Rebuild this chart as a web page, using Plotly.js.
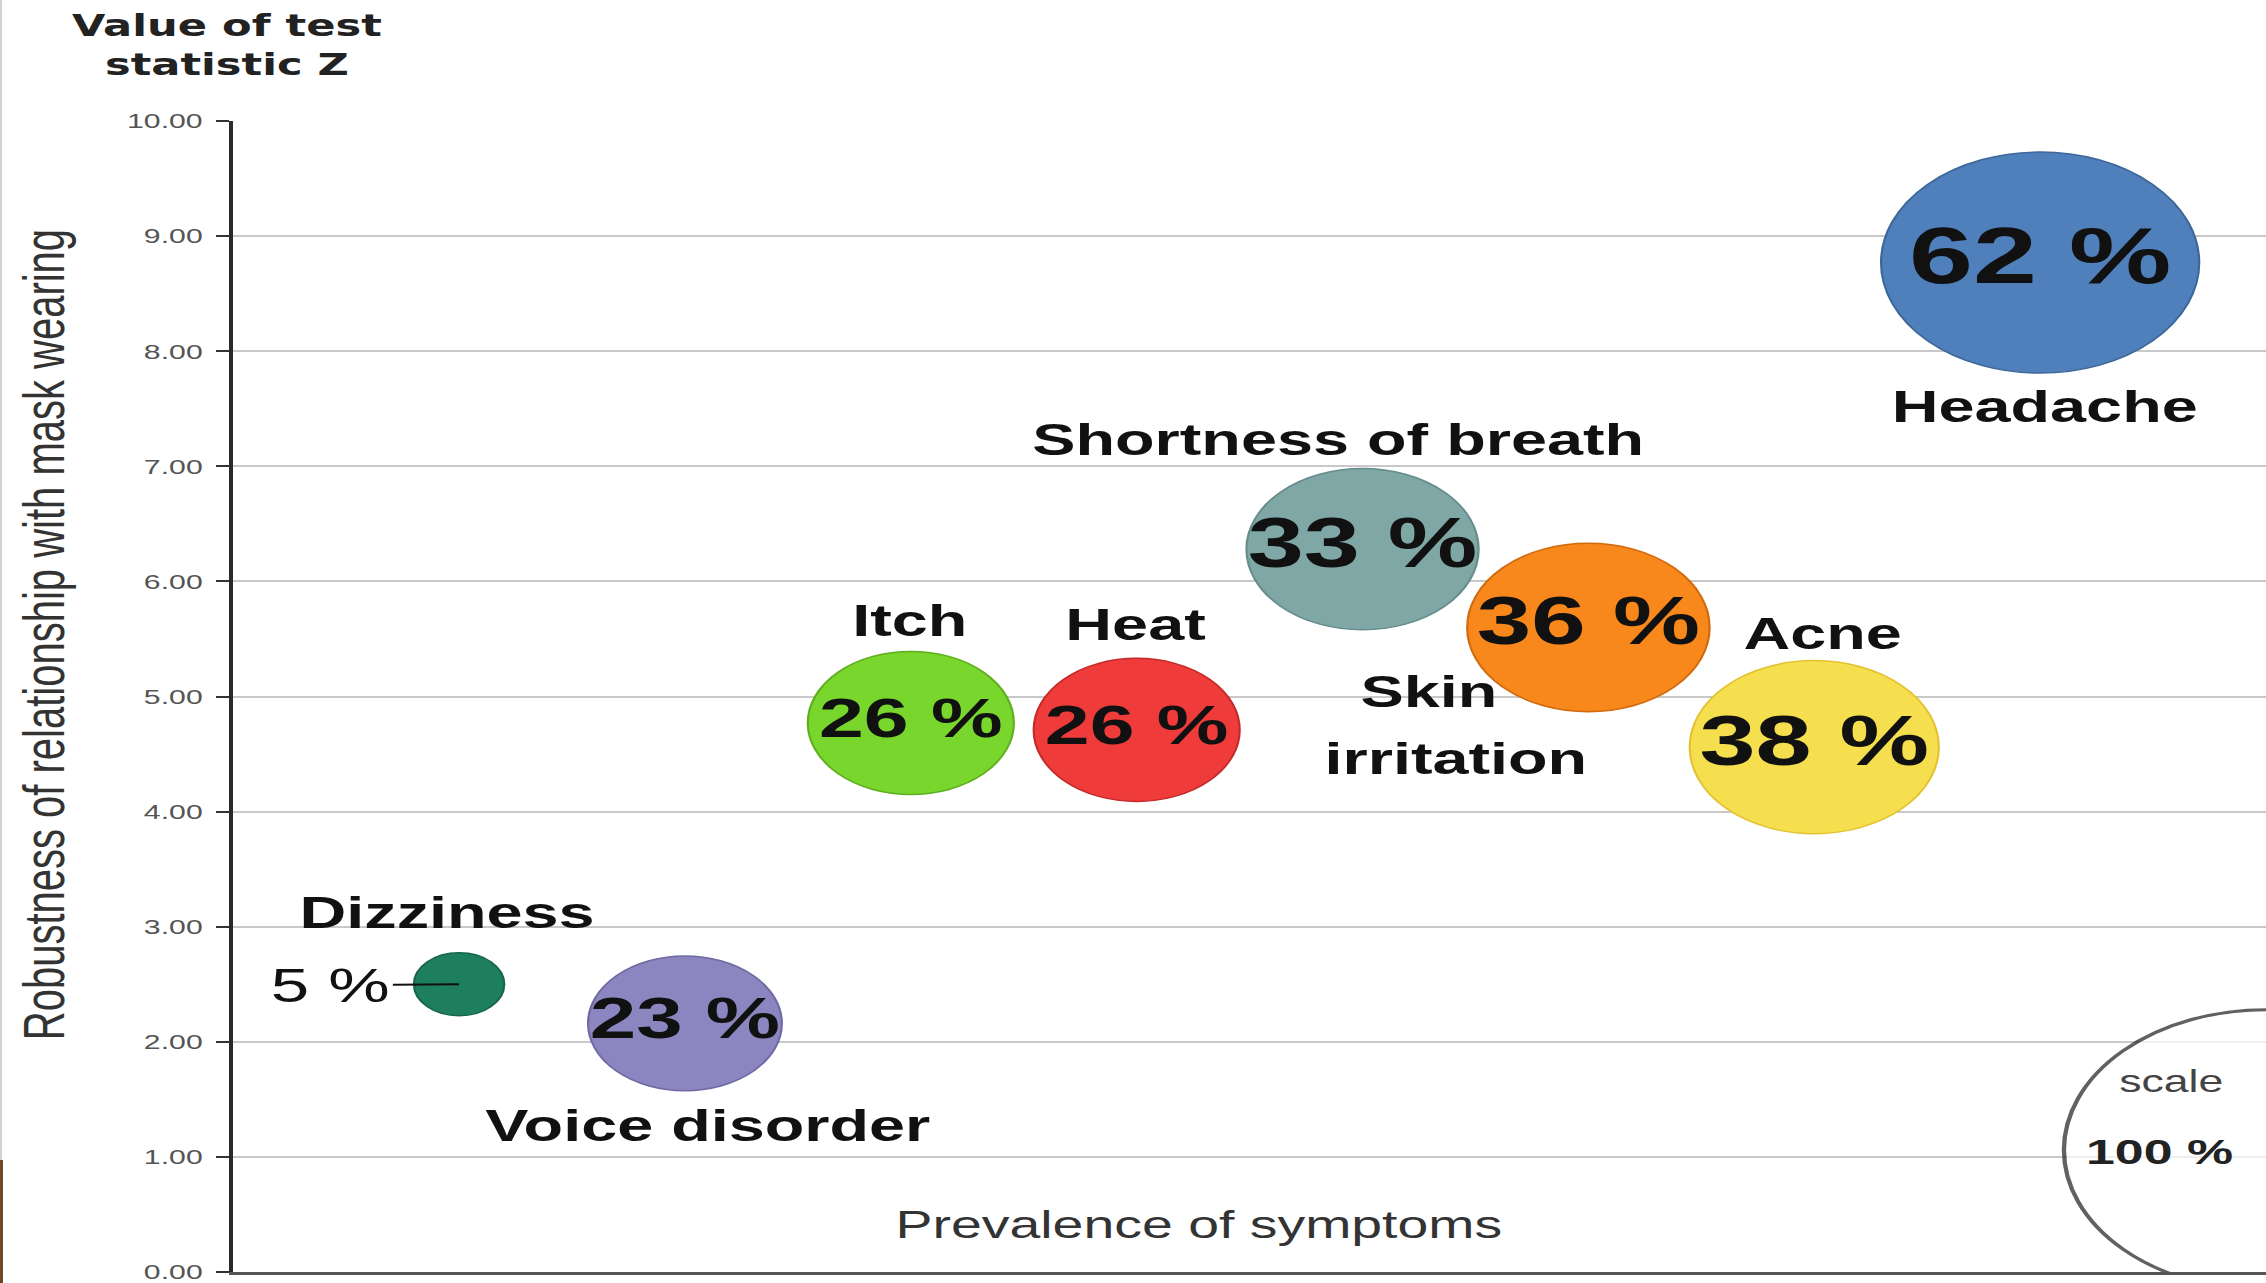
<!DOCTYPE html>
<html>
<head>
<meta charset="utf-8">
<script src="https://cdn.plot.ly/plotly-3.0.1.min.js"></script>
<style>
  html, body { margin:0; padding:0; background:#fff; overflow:hidden; width:2266px; height:1283px; }
  #wrap { position:absolute; left:0; top:0; width:1574px; height:1283px; transform:scaleX(1.43964); transform-origin:0 0; }
  #chart { width:1574px; height:1283px; }
  .edge1 { position:absolute; left:0; top:0; width:2px; height:1160px; background:#d6d2ca; }
  .edge2 { position:absolute; left:0; top:1160px; width:3px; height:123px; background:#6b4a22; }
</style>
</head>
<body>
<div id="wrap"><div id="chart"></div></div>
<div class="edge1"></div><div class="edge2"></div>
<script>
// ---- data ----
const symptoms   = ['Dizziness', 'Voice disorder', 'Itch', 'Heat', 'Shortness of breath', 'Skin irritation', 'Acne', 'Headache'];
const prevalence = [5, 23, 26, 26, 33, 36, 38, 62];          // % prevalence (bubble area)
const rankX      = [1, 2, 3, 4, 5, 6, 7, 8];                  // ordered by prevalence
const zValue     = [2.50, 2.16, 4.77, 4.71, 6.28, 5.60, 4.56, 8.77]; // value of test statistic Z
const yTickVals  = [0, 1, 2, 3, 4, 5, 6, 7, 8, 9, 10];
const scaleRank  = [9];
const scaleZ     = [1.06];
const scaleValue = [100];

// ---- styles ----
const fillColors = ['#1e7f5f', '#8b86c0', '#79d62c', '#f03b3b', '#7fa7a6', '#f8871c', '#f6df4e', '#4f80bb'];
const edgeColors = ['#17654b', '#6f6aa3', '#5fae1f', '#c42a2a', '#668c8b', '#d06a0e', '#e3c232', '#3d6699'];
const pctSizes   = [0, 58, 56, 56, 70, 68, 70, 80];
// label offsets (px) from bubble centre; one entry per text line
const labelLines = [
  [['Dizziness', -8, 72]],
  [['Voice disorder', 16, -102]],
  [['Itch', -1, 102]],
  [['Heat', -1, 105]],
  [['Shortness of breath', -17, 110]],
  [['Skin', -111, -64], ['irritation', -92, -131]],
  [['Acne', 6, 114]],
  [['Headache', 3, -144]]
];
const SIZEREF = 0.002538;
const ARIAL = 'Liberation Sans, Arial, Helvetica, sans-serif';

const bubbles = {
  type: 'scatter',
  mode: 'markers+text',
  x: rankX,
  y: zValue,
  text: prevalence.map((p, i) => i === 0 ? '' : p + ' %'),
  textposition: 'middle center',
  textfont: { family: ARIAL, size: pctSizes, color: '#111', weight: 700 },
  marker: {
    size: prevalence, sizemode: 'area', sizeref: SIZEREF,
    color: fillColors, opacity: 1,
    line: { color: edgeColors, width: 1.5 }
  },
  cliponaxis: true,
  hoverinfo: 'skip'
};

const scaleBubble = {
  type: 'scatter',
  mode: 'markers',
  x: scaleRank,
  y: scaleZ,
  marker: { size: scaleValue, sizemode: 'area', sizeref: SIZEREF, color: '#ffffff', line: { color: '#1e1e1e', width: 3 } },
  cliponaxis: true,
  hoverinfo: 'skip'
};

const annotations = [];
symptoms.forEach((s, i) => {
  labelLines[i].forEach(([txt, dx, dy]) => {
    annotations.push({
      x: rankX[i], y: zValue[i], xref: 'x', yref: 'y',
      text: txt, showarrow: false, xshift: dx, yshift: dy,
      font: { family: ARIAL, size: 45, color: '#111', weight: 700 }, align: 'center'
    });
  });
});
// small bubble value with leader line
annotations.push({
  x: rankX[0], y: zValue[0], xref: 'x', yref: 'y',
  text: prevalence[0] + ' %', showarrow: true, arrowhead: 0, arrowwidth: 2, arrowcolor: '#111',
  ax: -89, ay: 1, standoff: 0, startstandoff: 0,
  font: { family: ARIAL, size: 48, color: '#111' }
});
// scale legend text
annotations.push({
  x: scaleRank[0], y: scaleZ[0], xref: 'x', yref: 'y', text: 'scale', showarrow: false,
  xshift: -66, yshift: 68, font: { family: ARIAL, size: 31, color: '#444' }
});
annotations.push({
  x: scaleRank[0], y: scaleZ[0], xref: 'x', yref: 'y', text: scaleValue[0] + ' %', showarrow: false,
  xshift: -74, yshift: -2, font: { family: ARIAL, size: 36, color: '#222', weight: 700 }
});
// titles
annotations.push({
  xref: 'paper', yref: 'paper', x: -0.003, y: 1.066, xanchor: 'center', yanchor: 'middle',
  text: 'Value of test<br>statistic Z', showarrow: false, align: 'center',
  font: { family: 'DejaVu Sans, Verdana, sans-serif', size: 30, color: '#222', weight: 700 }
});
annotations.push({
  xref: 'paper', yref: 'paper', x: -0.0928, y: 0.554, xanchor: 'center', yanchor: 'middle',
  text: 'Robustness of relationship with mask wearing', textangle: -90, showarrow: false,
  font: { family: ARIAL, size: 40, color: '#333' }
});
annotations.push({
  xref: 'paper', yref: 'paper', x: 0.475, y: 0.0417, xanchor: 'center', yanchor: 'middle',
  text: 'Prevalence of symptoms', showarrow: false,
  font: { family: ARIAL, size: 38.5, color: '#333' }
});

const layout = {
  width: 1574, height: 1283,
  margin: { l: 162, r: 0, t: 121, b: 11, pad: 0 },
  paper_bgcolor: '#ffffff', plot_bgcolor: '#ffffff',
  showlegend: false,
  xaxis: {
    range: [0, 9], showticklabels: false, ticks: '', showgrid: false, zeroline: false,
    showline: true, linecolor: '#555', linewidth: 3, automargin: false, fixedrange: true
  },
  yaxis: {
    range: [0, 10], tickvals: yTickVals, tickformat: '.2f',
    ticks: 'outside', ticklen: 9, tickwidth: 2, tickcolor: '#333',
    showline: true, linecolor: '#2a2a2a', linewidth: 3,
    showgrid: true, gridcolor: '#c8c8c8', gridwidth: 2, zeroline: false,
    tickfont: { family: ARIAL, size: 21, color: '#555' },
    ticklabelstandoff: 5, ticklabeloverflow: 'allow', automargin: false, fixedrange: true
  },
  annotations: annotations
};

Plotly.newPlot('chart', [scaleBubble, bubbles], layout, { displayModeBar: false, staticPlot: true });
</script>
</body>
</html>
